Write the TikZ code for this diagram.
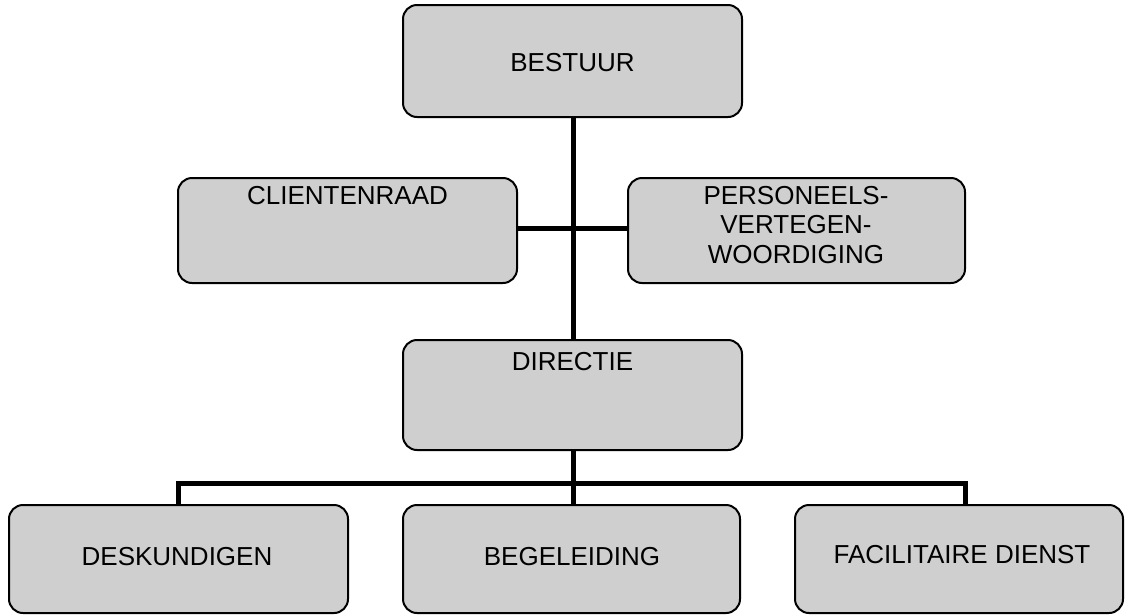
\documentclass[tikz,border=0pt]{standalone}
\usepackage{fontspec}
\setmainfont{Liberation Sans}
\begin{document}
\begin{tikzpicture}[x=1pt,y=-1pt,
  box/.style={draw=black, line width=2pt, fill=gray!38, rounded corners=14pt, inner sep=0pt},
  txt/.style={font=\fontsize{26}{29.5}\selectfont, align=center, inner sep=0pt},
  conn/.style={line width=5pt, black}]
\useasboundingbox (0,0) rectangle (1125,614);
% boxes
\node[box, minimum width=339pt, minimum height=112pt] (bestuur) at (572.5,61) {};
\node[box, minimum width=339pt, minimum height=105pt] (client) at (347.5,230.5) {};
\node[box, minimum width=337pt, minimum height=105pt] (pers) at (796.5,230.5) {};
\node[box, minimum width=339pt, minimum height=110pt] (dir) at (572.5,395) {};
\node[box, minimum width=339pt, minimum height=108pt] (desk) at (178.5,559) {};
\node[box, minimum width=337pt, minimum height=108pt] (begel) at (571.5,559) {};
\node[box, minimum width=328pt, minimum height=108pt] (facil) at (959,559) {};
% texts
\node[txt] (tbestuur) at (572.5,63) {BESTUUR};
\node[txt] (tclient) at (347.5,196) {CLIENTENRAAD};
\node[txt] (tpers) at (796,225) {PERSONEELS-\\VERTEGEN-\\WOORDIGING};
\node[txt] (tdir) at (572.5,362) {DIRECTIE};
\node[txt] (tdesk) at (177,557) {DESKUNDIGEN};
\node[txt] (tbegel) at (572,557) {BEGELEIDING};
\node[txt] (tfacil) at (962,555) {FACILITAIRE DIENST};
% connectors
\coordinate (split) at (573,483);
\draw[conn] (bestuur.south -| split) -- (dir.north -| split);
\draw[conn] (client.east |- 0,228) -- (pers.west |- 0,228);
\draw[conn] (dir.south -| split) -- (split);
\draw[conn] (178,483) -- (965,483);
\draw[conn] (178,481) -- (178,505);
\draw[conn] (965,481) -- (965,505);
\draw[conn] (split) -- (begel.north -| split);
\end{tikzpicture}
\end{document}
